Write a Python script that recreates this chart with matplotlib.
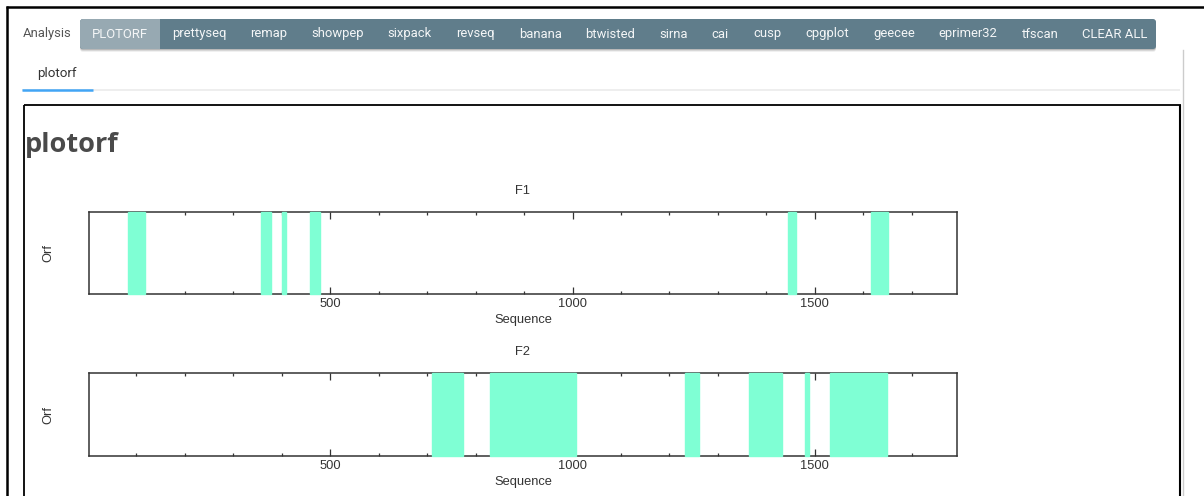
import matplotlib
matplotlib.use("Agg")
import matplotlib.pyplot as plt
from matplotlib.patches import FancyBboxPatch, Rectangle
import numpy as np

# ---------------- data ----------------
tabs = ["PLOTORF", "prettyseq", "remap", "showpep", "sixpack", "revseq", "banana",
        "btwisted", "sirna", "cai", "cusp", "cpgplot", "geecee", "eprimer32",
        "tfscan", "CLEAR ALL"]
frames = ["F1", "F2"]
f1_starts = [82, 358, 401, 459, 1444, 1615]
f1_ends = [118, 377, 409, 478, 1462, 1652]
f2_starts = [710, 829, 1232, 1364, 1480, 1531]
f2_ends = [773, 1008, 1261, 1432, 1487, 1648]
seq_start, seq_end = 1, 1794
major_ticks = [500, 1000, 1500]
minor_ticks = list(range(100, 1800, 100))

# ---------------- figure ----------------
W, H = 1204, 496
fig = plt.figure(figsize=(W / 100, H / 100), dpi=100)
fig.patch.set_facecolor("white")

bg = fig.add_axes([0, 0, 1, 1])
bg.set_xlim(0, W)
bg.set_ylim(H, 0)
bg.axis("off")
bg.set_zorder(-1)

# page borders
bg.plot([6, W], [7, 7], color="black", lw=1.8, solid_capstyle="butt")
bg.plot([7, 7], [6, H], color="black", lw=1.8, solid_capstyle="butt")

# tab bar (with soft shadow)
for off, a in [(3, 0.06), (2, 0.10), (1, 0.14)]:
    bg.add_patch(FancyBboxPatch((80, 19 + off), 1076, 30,
                                boxstyle="round,pad=0,rounding_size=3",
                                fc=(0, 0, 0, a), ec="none"))
bg.add_patch(FancyBboxPatch((80, 19), 1076, 30, boxstyle="round,pad=0,rounding_size=3",
                            fc="#607d8b", ec="none"))
bg.text(23, 34, "Analysis", family="Roboto", fontsize=9.4, color="#555555",
        ha="left", va="center")

renderer = fig.canvas.get_renderer()
x = 80.0
pad = 12.0
for i, name in enumerate(tabs):
    t = bg.text(0, 34, name, family="Roboto", fontsize=9.4, color="#f4f6f7",
                ha="center", va="center", zorder=5)
    w = t.get_window_extent(renderer).width
    if i == 0:
        bg.add_patch(FancyBboxPatch((80, 19), w + 2 * pad, 30,
                                    boxstyle="round,pad=0,rounding_size=3",
                                    fc="#97a9b2", ec="none", zorder=2))
        bg.add_patch(Rectangle((80 + w + 2 * pad - 5, 19), 5, 30,
                               fc="#97a9b2", ec="none", zorder=2))
    t.set_x(x + pad + w / 2)
    x += w + 2 * pad

# sub tab
bg.text(57, 73, "plotorf", family="Roboto", fontsize=9.6, color="#333333",
        ha="center", va="center")
bg.plot([22, 1180], [89.5, 89.5], color="#eeeeee", lw=1.4, solid_capstyle="butt")
bg.plot([22, 93], [89.5, 89.5], color="#42a5f5", lw=1.8, solid_capstyle="butt")

# right gray divider
bg.plot([1182.5, 1182.5], [50, H], color="#cccccc", lw=1.0)

# inner content box
bg.plot([24, 24], [104.5, H], color="black", lw=1.3, solid_capstyle="butt")
bg.plot([23.5, 1180.5], [105, 105], color="black", lw=1.3, solid_capstyle="butt")
bg.plot([1180, 1180], [104.5, H], color="black", lw=1.5, solid_capstyle="butt")

# heading
bg.text(25, 145, "plotorf", family="Open Sans", fontweight="bold", fontsize=19.5,
        color="#4a4a4a", ha="left", va="center")

# ---------------- ORF panels ----------------
plot_font = dict(family="Liberation Sans", fontsize=9.3, color="#333333")
ax_left, ax_right = 88.5, 957.3
panels = [(212.0, 294.3), (373.3, 456.0)]
starts_all = [f1_starts, f2_starts]
ends_all = [f1_ends, f2_ends]

for frame, (top, bottom), starts, ends in zip(frames, panels, starts_all, ends_all):
    ax = fig.add_axes([ax_left / W, 1 - bottom / H, (ax_right - ax_left) / W, (bottom - top) / H])
    ax.set_facecolor("white")
    ax.set_xlim(seq_start, seq_end)
    ax.set_ylim(0, 1)
    starts = np.array(starts)
    ends = np.array(ends)
    ax.bar(starts, 1, width=ends - starts, bottom=0, align="edge",
           color="#7fffd4", edgecolor="#7fffd4", linewidth=1.0, zorder=3, clip_on=False)
    for s in ax.spines.values():
        s.set_color("#333333")
        s.set_linewidth(1.1)
    ax.set_xticks(major_ticks)
    ax.set_xticks(minor_ticks, minor=True)
    ax.set_yticks([])
    ax.tick_params(axis="x", which="major", direction="in", length=5, width=0.9,
                   color="#333333", top=True, bottom=True, pad=3,
                   labelsize=plot_font["fontsize"], labelcolor="#333333")
    ax.tick_params(axis="x", which="minor", direction="in", length=2.5, width=0.9,
                   color="#333333", top=True, bottom=True)
    for lab in ax.get_xticklabels():
        lab.set_family("Liberation Sans")
    h = bottom - top
    ax.set_title(frame, y=1 + 21 / h, va="center", pad=0, **plot_font)
    ax.set_xlabel("Sequence", **plot_font)
    ax.xaxis.set_label_coords(0.5, -(320 - 294.3) / h)
    ax.xaxis.label.set_va("center")
    ax.set_ylabel("Orf", **plot_font)
    ax.yaxis.set_label_coords(-(ax_left - 48) / (ax_right - ax_left), 0.5)
    ax.yaxis.label.set_va("center")

fig.savefig("out.png", dpi=100)
